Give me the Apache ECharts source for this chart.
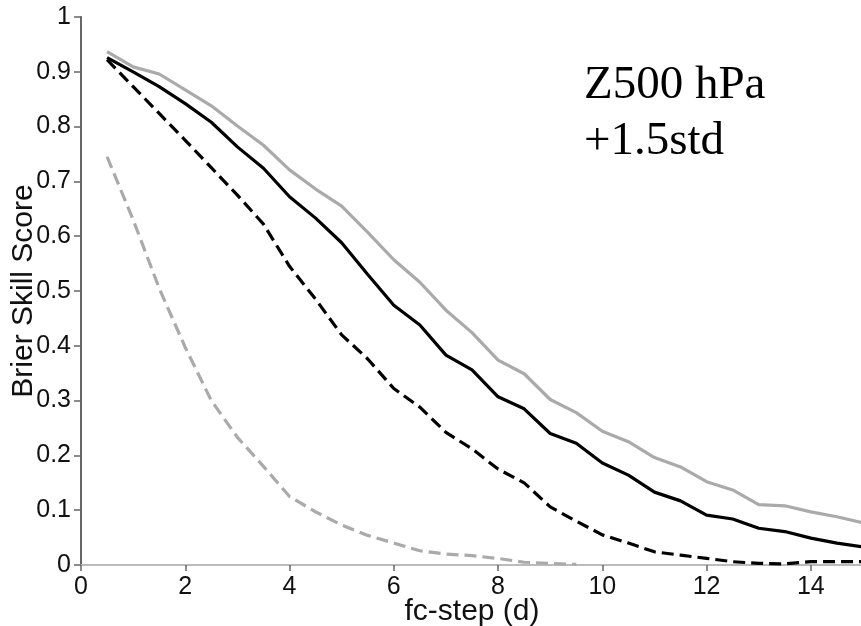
<!DOCTYPE html>
<html>
<head>
<meta charset="utf-8">
<script src="https://cdn.jsdelivr.net/npm/echarts@6/dist/echarts.min.js"></script>
<style>
html,body{margin:0;padding:0;background:#fff;}
#chart{width:861px;height:626px;}
</style>
</head>
<body>
<div id="chart"></div>
<script>
// forecast step (days)
var days = [0.5,1,1.5,2,2.5,3,3.5,4,4.5,5,5.5,6,6.5,7,7.5,8,8.5,9,9.5,10,10.5,11,11.5,12,12.5,13,13.5,14,14.5,15];
// grey solid
var greySolid = [0.937,0.909,0.896,0.867,0.838,0.801,0.766,0.721,0.686,0.655,0.607,0.557,0.516,0.465,0.424,0.374,0.349,0.302,0.278,0.244,0.225,0.196,0.179,0.152,0.137,0.110,0.108,0.097,0.088,0.077];
// black solid
var blackSolid = [0.926,0.900,0.873,0.842,0.808,0.763,0.724,0.672,0.633,0.588,0.530,0.474,0.438,0.383,0.356,0.307,0.285,0.240,0.222,0.186,0.164,0.133,0.117,0.091,0.084,0.067,0.061,0.049,0.040,0.033];
// black dashed
var blackDashed = [0.922,0.873,0.824,0.775,0.725,0.675,0.622,0.545,0.485,0.420,0.376,0.322,0.288,0.242,0.212,0.175,0.150,0.106,0.080,0.055,0.040,0.024,0.018,0.012,0.006,0.003,0.002,0.006,0.006,0.006];
// grey dashed (ends at 9.5 d)
var greyDashed = [0.745,0.630,0.505,0.397,0.300,0.233,0.180,0.125,0.097,0.073,0.054,0.040,0.026,0.020,0.017,0.012,0.005,0.003,0.001];

var xTitle = 'fc-step (d)';
var yTitle = 'Brier Skill Score';
var noteLines = ['Z500 hPa', '+1.5std'];

function pairs(xs, ys) {
  var out = [];
  for (var i = 0; i < ys.length; i++) out.push([xs[i], ys[i]]);
  return out;
}

var FONT = '"Liberation Sans", Arial, Helvetica, sans-serif';
var chart = echarts.init(document.getElementById('chart'), null, {renderer: 'canvas'});
chart.setOption({
  backgroundColor: '#ffffff',
  animation: false,
  grid: {left: 81, top: 17, width: 782, height: 548, containLabel: false, outerBoundsMode: 'none'},
  xAxis: [{
    type: 'value', min: 0, max: 15, interval: 2,
    name: xTitle, nameLocation: 'middle', nameGap: 32, nameMoveOverlap: false,
    nameTextStyle: {fontFamily: FONT, fontSize: 30, color: '#111'},
    axisLine: {show: true, onZero: false, lineStyle: {color: '#666', width: 2}},
    axisTick: {show: true, inside: false, length: 6, lineStyle: {color: '#666', width: 1.5}},
    axisLabel: {fontFamily: FONT, fontSize: 25, color: '#111', margin: 10, showMaxLabel: false},
    splitLine: {show: false}
  }, {
    type: 'value', min: 0, max: 15, position: 'top',
    axisLine: {show: true, lineStyle: {color: '#bbbbbb', width: 2}},
    axisTick: {show: false}, axisLabel: {show: false}, splitLine: {show: false}
  }],
  yAxis: {
    type: 'value', min: 0, max: 1, interval: 0.1,
    name: yTitle, nameLocation: 'middle', nameGap: 42, nameRotate: 90, nameMoveOverlap: false,
    nameTextStyle: {fontFamily: FONT, fontSize: 30, color: '#111'},
    axisLine: {show: true, lineStyle: {color: '#666', width: 2}},
    axisTick: {show: true, inside: false, length: 7, lineStyle: {color: '#666', width: 1.5}},
    axisLabel: {fontFamily: FONT, fontSize: 25, color: '#111', margin: 10},
    splitLine: {show: false}
  },
  series: [
    {type: 'line', data: pairs(days, greyDashed), showSymbol: false, silent: true,
     lineStyle: {color: '#aaaaaa', width: 3.2, type: [12, 6]}},
    {type: 'line', data: pairs(days, greySolid), showSymbol: false, silent: true,
     lineStyle: {color: '#aaaaaa', width: 3.2}},
    {type: 'line', data: pairs(days, blackDashed), showSymbol: false, silent: true,
     lineStyle: {color: '#000000', width: 3.2, type: [12, 6]}},
    {type: 'line', data: pairs(days, blackSolid), showSymbol: false, silent: true,
     lineStyle: {color: '#000000', width: 3.2}}
  ],
  graphic: [{
    type: 'text', left: 584, top: 58,
    style: {text: noteLines.join('\n'), font: '47px "Liberation Serif", "Times New Roman", serif',
            fill: '#000', lineHeight: 56}
  }]
});
</script>
</body>
</html>
